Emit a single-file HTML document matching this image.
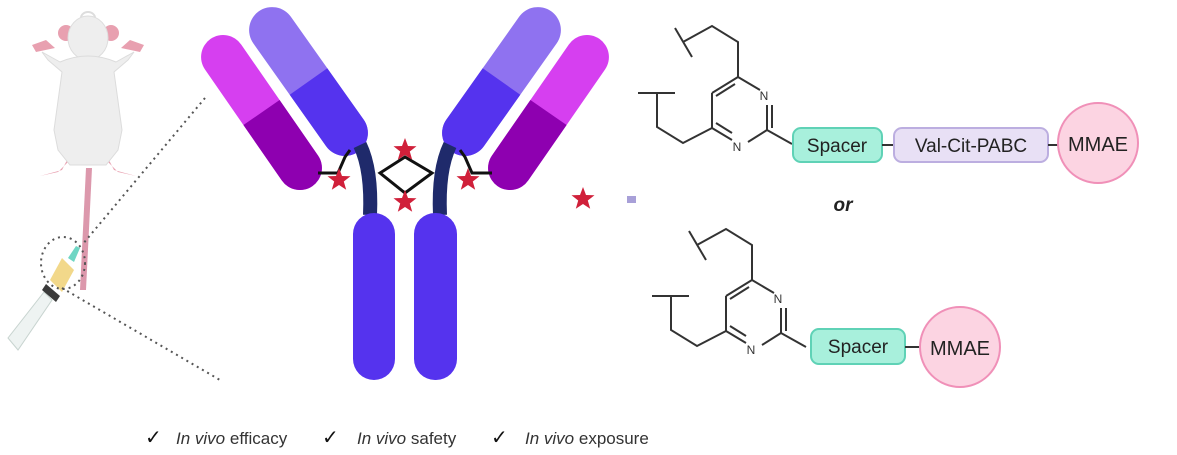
<!DOCTYPE html>
<html><head><meta charset="utf-8"><style>
html,body{margin:0;padding:0;background:#fff;}
svg{display:block;}
text{font-family:"Liberation Sans",sans-serif;}
</style></head><body>
<svg width="1177" height="455" viewBox="0 0 1177 455" xmlns="http://www.w3.org/2000/svg">
<defs>
<g id="star"><polygon points="0,-12 3,-4 11.5,-3.7 4.8,1.5 7.2,9.7 0,5 -7.2,9.7 -4.8,1.5 -11.5,-3.7 -3,-4" fill="#d0203a"/></g>
<g id="light"><rect x="-89.5" y="-22" width="179" height="44" rx="22" fill="#d63ff0"/><path d="M0,-22 H67.5 A22,22 0 0 1 67.5,22 H0 Z" fill="#8e00b0"/></g>
<g id="heavy"><rect x="-86" y="-23" width="172" height="46" rx="23" fill="#8f72f0"/><path d="M0,-23 H63 A23,23 0 0 1 63,23 H0 Z" fill="#5533ee"/></g>
<g id="arm">
<use href="#light" transform="translate(261.5,112.5) rotate(55.3)"/>
<use href="#heavy" transform="translate(308.5,81.5) rotate(54.7)"/>
<path d="M360 145 Q372 170 370 215" stroke="#1f2a6b" stroke-width="14" fill="none"/>
<polyline points="318,173 338,173 345,157 350,150" fill="none" stroke="#111" stroke-width="3"/>
</g>
</defs>
<!-- mouse -->
<g>
<path d="M70 160 L58 172 L40 176 L62 170 L72 150Z M106 160 L118 172 L136 176 L114 170 L104 150Z" fill="#e8a0b0"/>
<path d="M46 40 L32 45 L36 52 L55 48Z M130 40 L144 45 L140 52 L121 48Z" fill="#e8a0b0"/>
<ellipse cx="88" cy="18" rx="7" ry="6" fill="none" stroke="#ddd" stroke-width="2"/>
<ellipse cx="66" cy="33" rx="8" ry="8" fill="#e8a0b0"/>
<ellipse cx="111" cy="33" rx="8" ry="8" fill="#e8a0b0"/>
<ellipse cx="88" cy="38" rx="20" ry="22" fill="#eeeeee" stroke="#ddd"/>
<path d="M60 62 L42 52 L48 60 L62 72 L54 130 L58 150 L70 165 L106 165 L118 150 L122 130 L114 72 L128 60 L134 52 L116 62 Q88 50 60 62Z" fill="#eeeeee" stroke="#dcdcdc"/>
<path d="M86 168 L92 168 L86 290 L80 290Z" fill="#dc98ac"/>
</g>
<!-- syringe -->
<g>
<path d="M8 338 L18 350 L52 300 L44 292Z" fill="#eef3f2" stroke="#c8d4d0"/>
<path d="M42 290 L56 302 L60 296 L46 284Z" fill="#3a3a3a"/>
<path d="M50 280 L62 292 L74 270 L62 258Z" fill="#f2d88a"/>
<path d="M68 258 L74 262 L80 248 L76 246Z" fill="#6fd6c4"/>
</g>
<ellipse cx="63" cy="263" rx="22" ry="26" fill="none" stroke="#555" stroke-width="2" stroke-dasharray="2,4"/>
<line x1="205" y1="98" x2="82" y2="245" stroke="#555" stroke-width="2" stroke-dasharray="2,4"/>
<line x1="62" y1="288" x2="220" y2="380" stroke="#555" stroke-width="2" stroke-dasharray="2,4"/>
<!-- antibody -->
<use href="#arm"/>
<use href="#arm" transform="translate(810,0) scale(-1,1)"/>
<polygon points="380,173 405,157 432,173 405,193" fill="none" stroke="#111" stroke-width="3"/>
<!-- Fc -->
<rect x="353" y="213" width="42" height="167" rx="21" fill="#5533ee"/>
<rect x="414" y="213" width="43" height="167" rx="21" fill="#5533ee"/>
<use href="#star" x="405" y="150"/>
<use href="#star" x="405" y="202"/>
<use href="#star" x="339" y="180"/>
<use href="#star" x="468" y="180"/>
<use href="#star" x="583" y="199"/>
<rect x="627" y="196" width="9" height="7" fill="#a8a0d8"/>
<!-- chemistry top -->
<g id="chem" stroke="#333" stroke-width="2" fill="none">
<line x1="675" y1="28" x2="692" y2="57"/>
<polyline points="683,42 712,26 738,42 738,77"/>
<line x1="738" y1="77" x2="760" y2="90"/>
<line x1="767" y1="105" x2="767" y2="130"/>
<line x1="772" y1="105" x2="772" y2="128"/>
<line x1="767" y1="130" x2="748" y2="142"/>
<line x1="738" y1="77" x2="712" y2="93"/>
<line x1="735" y1="84" x2="716" y2="96"/>
<line x1="712" y1="93" x2="712" y2="128"/>
<line x1="712" y1="128" x2="732" y2="140"/>
<line x1="716" y1="123" x2="732" y2="133"/>
<polyline points="712,128 683,143 657,127 657,93"/>
<line x1="638" y1="93" x2="675" y2="93"/>
<line x1="767" y1="130" x2="792" y2="144"/>
</g>
<text x="764" y="100" font-size="12" fill="#333" text-anchor="middle">N</text>
<text x="737" y="151" font-size="12" fill="#333" text-anchor="middle">N</text>
<rect x="793" y="128" width="89" height="34" rx="8" fill="#a8f0dc" stroke="#5fd2b6" stroke-width="2"/>
<text x="837" y="152" font-size="19" fill="#222" text-anchor="middle">Spacer</text>
<line x1="882" y1="145" x2="894" y2="145" stroke="#333" stroke-width="2"/>
<rect x="894" y="128" width="154" height="34" rx="8" fill="#e8e0f5" stroke="#bcaee0" stroke-width="2"/>
<text x="971" y="152" font-size="19" fill="#222" text-anchor="middle">Val-Cit-PABC</text>
<line x1="1048" y1="145" x2="1058" y2="145" stroke="#333" stroke-width="2"/>
<circle cx="1098" cy="143" r="40" fill="#fcd4e2" stroke="#f090b8" stroke-width="2"/>
<text x="1098" y="151" font-size="20" fill="#222" text-anchor="middle">MMAE</text>
<text x="843" y="211" font-size="19" font-weight="bold" font-style="italic" fill="#222" text-anchor="middle">or</text>
<!-- chemistry bottom -->
<use href="#chem" transform="translate(14,203)"/>
<text x="778" y="303" font-size="12" fill="#333" text-anchor="middle">N</text>
<text x="751" y="354" font-size="12" fill="#333" text-anchor="middle">N</text>
<rect x="811" y="329" width="94" height="35" rx="8" fill="#a8f0dc" stroke="#5fd2b6" stroke-width="2"/>
<text x="858" y="353" font-size="19" fill="#222" text-anchor="middle">Spacer</text>
<line x1="905" y1="347" x2="920" y2="347" stroke="#333" stroke-width="2"/>
<circle cx="960" cy="347" r="40" fill="#fcd4e2" stroke="#f090b8" stroke-width="2"/>
<text x="960" y="355" font-size="20" fill="#222" text-anchor="middle">MMAE</text>
<!-- bottom labels -->
<g font-size="17" fill="#333">
<text x="145" y="444" font-size="20" fill="#111">✓</text>
<text x="176" y="444"><tspan font-style="italic">In vivo</tspan> efficacy</text>
<text x="322" y="444" font-size="20" fill="#111">✓</text>
<text x="357" y="444"><tspan font-style="italic">In vivo</tspan> safety</text>
<text x="491" y="444" font-size="20" fill="#111">✓</text>
<text x="525" y="444"><tspan font-style="italic">In vivo</tspan> exposure</text>
</g>
</svg>
</body></html>
